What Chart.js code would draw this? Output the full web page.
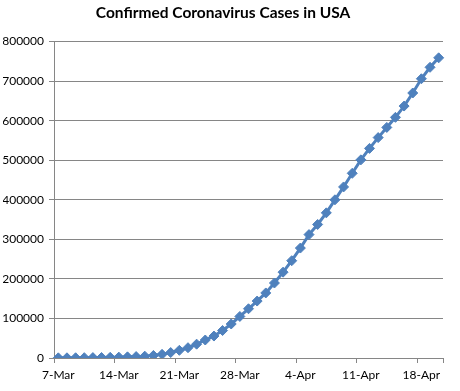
<!DOCTYPE html>
<html>
<head>
<meta charset="utf-8">
<script src="https://cdn.jsdelivr.net/npm/chart.js@4"></script>
<style>
  body { margin: 0; background: #fff; }
</style>
</head>
<body>
<canvas id="casesChart" width="460" height="391"></canvas>
<script>
const dates = [
  '7-Mar', '8-Mar', '9-Mar', '10-Mar', '11-Mar', '12-Mar', '13-Mar',
  '14-Mar', '15-Mar', '16-Mar', '17-Mar', '18-Mar', '19-Mar', '20-Mar',
  '21-Mar', '22-Mar', '23-Mar', '24-Mar', '25-Mar', '26-Mar', '27-Mar',
  '28-Mar', '29-Mar', '30-Mar', '31-Mar', '1-Apr', '2-Apr', '3-Apr',
  '4-Apr', '5-Apr', '6-Apr', '7-Apr', '8-Apr', '9-Apr', '10-Apr',
  '11-Apr', '12-Apr', '13-Apr', '14-Apr', '15-Apr', '16-Apr', '17-Apr',
  '18-Apr', '19-Apr', '20-Apr'
];

const cases = [
  400, 500, 600, 800, 1000, 1300, 1700,
  2200, 2900, 3600, 4600, 6400, 9200, 13800,
  19400, 26000, 35000, 45500, 55500, 69500, 86000,
  105000, 124500, 144000, 164500, 189600, 217000, 246000,
  278000, 312000, 337600, 367000, 400000, 432500, 467000,
  501000, 530000, 557300, 583000, 608500, 637000, 670000,
  706000, 735000, 759000
];

const yTicks = [0, 100000, 200000, 300000, 400000, 500000, 600000, 700000, 800000];

const blue = '#4F81BD';
const gridGrey = '#868686';

let casesChart = new Chart('casesChart', {
  type: 'line',
  data: {
    labels: dates,
    datasets: [{
      label: 'Confirmed cases',
      data: cases,
      borderColor: blue,
      backgroundColor: blue,
      borderWidth: 3,
      pointStyle: 'rectRot',
      pointRadius: 5,
      pointBorderWidth: 1,
      pointBackgroundColor: blue,
      pointBorderColor: blue,
      tension: 0
    }]
  },
  options: {
    responsive: false,
    animation: false,
    devicePixelRatio: 1,
    layout: { padding: { left: 3, right: 17, top: 0, bottom: 0 } },
    plugins: {
      legend: { display: false },
      tooltip: { enabled: false },
      title: {
        display: true,
        text: 'Confirmed Coronavirus Cases in USA',
        color: '#000',
        font: { family: 'Lato', size: 15.5, weight: 'bold' },
        padding: { top: 4, bottom: 19 }
      }
    },
    scales: {
      x: {
        offset: true,
        grid: {
          offset: true,
          drawOnChartArea: false,
          drawTicks: true,
          tickLength: 5,
          tickColor: (ctx) => (ctx.type !== 'tick' || ctx.index % 7 === 0) ? gridGrey : 'rgba(0,0,0,0)'
        },
        border: { display: true, color: gridGrey },
        ticks: {
          autoSkip: false,
          maxRotation: 0,
          padding: 5,
          color: '#000',
          font: { family: 'Lato', size: 12 },
          callback: (val, i) => i % 7 === 0 ? dates[i] : ''
        },
        afterFit: (s) => { s.height = 33; }
      },
      y: {
        min: 0,
        max: 800000,
        afterBuildTicks: (s) => { s.ticks = yTicks.map(v => ({ value: v })); },
        grid: { color: gridGrey, tickLength: 5, tickColor: gridGrey },
        border: { display: true, color: gridGrey },
        ticks: {
          padding: 5,
          color: '#000',
          font: { family: 'Lato', size: 12 },
          callback: (v) => String(v)
        },
        afterFit: (s) => { s.width = 51; }
      }
    }
  }
});
</script>
</body>
</html>
